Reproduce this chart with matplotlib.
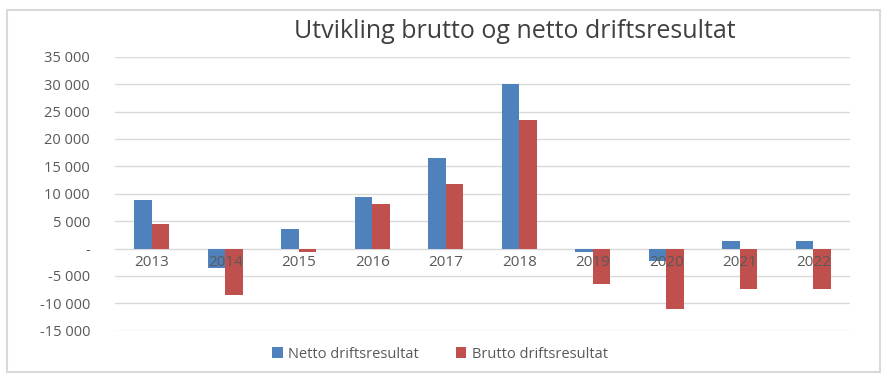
import matplotlib.pyplot as plt
from matplotlib.patches import Rectangle
import numpy as np

plt.rcParams['font.family'] = ['Open Sans', 'DejaVu Sans']

years = ['2013', '2014', '2015', '2016', '2017', '2018', '2019', '2020', '2021', '2022']
netto = [8800, -3500, 3500, 9400, 16500, 30000, -600, -2300, 1400, 1400]
brutto = [4400, -8500, -700, 8100, 11800, 23500, -6500, -11100, -7300, -7300]
y_ticks = [-15000, -10000, -5000, 0, 5000, 10000, 15000, 20000, 25000, 30000, 35000]

blue = '#4F81BD'
red = '#C0504D'
txt = '#595959'


def fmt(v):
    if v == 0:
        return '-'
    s = f'{abs(v):,}'.replace(',', ' ')
    return ('-' if v < 0 else '') + s


fig = plt.figure(figsize=(8.89, 3.85), dpi=100)
fig.patches.append(Rectangle((7 / 889, 1 - 372 / 385), 873 / 889, 362 / 385,
                             transform=fig.transFigure, fill=False,
                             edgecolor='#D9D9D9', linewidth=1.5))

ax = fig.add_axes([115 / 889, 54.3 / 385, 735 / 889, 274 / 385])
x = np.arange(len(years))
w = 0.235
ax.bar(x - w / 2, netto, w, color=blue, zorder=3, label='Netto driftsresultat')
ax.bar(x + w / 2, brutto, w, color=red, zorder=3, label='Brutto driftsresultat')

ax.set_xlim(-0.5, len(years) - 0.5)
ax.set_ylim(-15000, 35000)
ax.set_yticks(y_ticks)
ax.set_yticklabels([fmt(v) for v in y_ticks], fontsize=10.5, color=txt)
ax.tick_params(axis='y', length=0, pad=18)
ax.set_xticks([])
ax.grid(axis='y', color='#D9D9D9', linewidth=1, zorder=0)
for s in ax.spines.values():
    s.set_visible(False)

# year labels sit just under the zero line, on top of the bars
for xi, yr in zip(x, years):
    ax.annotate(yr, (xi, 0), xytext=(0, -5), textcoords='offset points',
                ha='center', va='top', fontsize=11, color=txt, zorder=4)

fig.text(515 / 889, 1 - 32 / 385, 'Utvikling brutto og netto driftsresultat',
         ha='center', va='center', fontsize=18, color='#404040')

fig.legend(loc='center', bbox_to_anchor=(440 / 889, 1 - 354 / 385), ncol=2,
           frameon=False, fontsize=10.5, handlelength=0.7, handleheight=0.7,
           columnspacing=2.5, handletextpad=0.4, labelcolor=txt)

fig.savefig('out.png', dpi=100)
